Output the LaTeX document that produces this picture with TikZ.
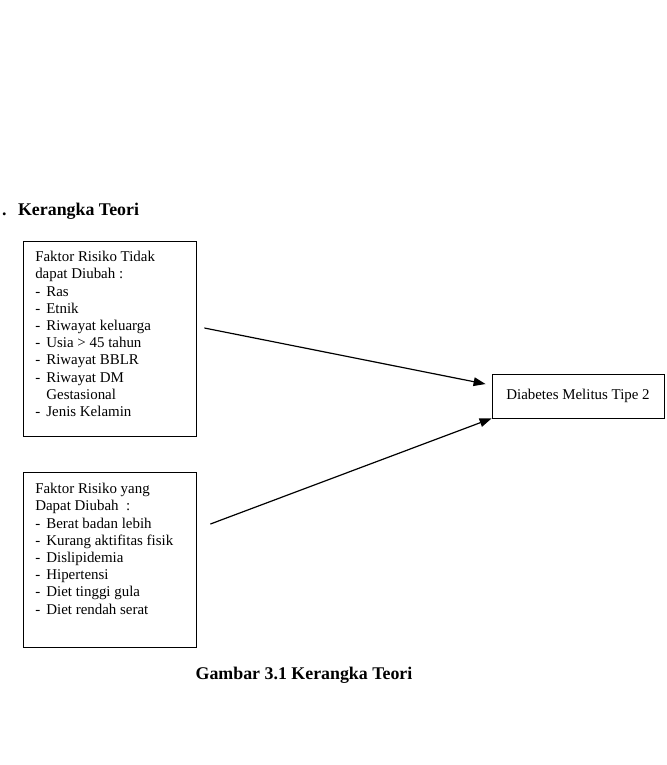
\documentclass[tikz,border=0pt]{standalone}
\usepackage{fontspec}
\setmainfont{Liberation Serif}
\usepackage{tikz}
\usetikzlibrary{arrows.meta,positioning,calc}
\newcommand{\itm}{\makebox[8.3pt][l]{-}}
\newcommand{\bodyfont}{\fontsize{11.2}{12.9}\selectfont}
\newcommand{\headfont}{\fontsize{13.4}{15}\selectfont\bfseries}
\begin{document}
\begin{tikzpicture}[arr/.style={-{Triangle[length=9pt,width=6.5pt]}, line width=0.9pt}, kotak/.style={draw, line width=0.6pt, inner sep=0pt}, isi/.style={anchor=north west, align=left, inner sep=0pt, font=\bodyfont}]
	\useasboundingbox (0,0) rectangle (17.556,-20.165);
	\node[anchor=west, inner sep=0pt, font=\headfont] (judul) at (0.05,-5.562) {.\hspace{8.6pt}Kerangka Teori};
	\node[kotak, minimum width=4.560cm, minimum height=5.140cm] (A) at (2.886,-8.923) {};
	\node[kotak, minimum width=4.560cm, minimum height=4.613cm] (B) at (2.886,-14.749) {};
	\node[kotak, minimum width=4.534cm, minimum height=1.160cm, font=\bodyfont] (dm) at (15.236,-10.439) {Diabetes Melitus Tipe 2};
	\node[isi] (isiA) at (0.923,-6.616) {Faktor Risiko Tidak\\dapat Diubah :\\\itm Ras\\\itm Etnik\\\itm Riwayat keluarga\\\itm Usia > 45 tahun\\\itm Riwayat BBLR\\\itm Riwayat DM\\\hspace{8.3pt}Gestasional\\\itm Jenis Kelamin};
	\node[isi] (isiB) at (0.923,-12.732) {Faktor Risiko yang\\Dapat Diubah~ :\\\itm Berat badan lebih\\\itm Kurang aktifitas fisik\\\itm Dislipidemia\\\itm Hipertensi\\\itm Diet tinggi gula\\\itm Diet rendah serat};
	\coordinate (dariA) at ($(A.east)+(0.211,0.277)$);
	\coordinate (dariB) at ($(B.east)+(0.369,0.936)$);
	\draw[arr] (dariA) -- ($(dm.west)+(-0.158,0.316)$);
	\draw[arr] (dariB) -- (dm.south west);
	\node[font=\headfont] (caption) at (8.013,-17.793) {Gambar 3.1 Kerangka Teori};
\end{tikzpicture}
\end{document}
